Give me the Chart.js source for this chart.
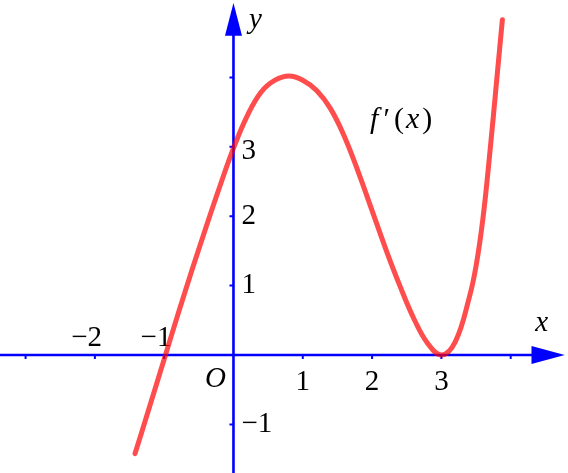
<!DOCTYPE html>
<html>
<head>
<meta charset="utf-8">
<script src="https://cdn.jsdelivr.net/npm/chart.js@4/dist/chart.umd.min.js"></script>
<style>
  html, body { margin:0; padding:0; background:#fff; }
  #c { display:block; }
</style>
</head>
<body>
<canvas id="c" width="568" height="473"></canvas>
<script>
/* f'(x) curve */
const CURVE_X = [-1.42, -1.2, -1.0, -0.8, -0.6, -0.4, -0.2, 0.0, 0.2, 0.4, 0.6, 0.8, 1.0, 1.2, 1.4, 1.6, 1.8, 2.0, 2.2, 2.4, 2.6, 2.8, 3.0, 3.2, 3.4, 3.5, 3.6, 3.7, 3.8, 3.88];
const CURVE_Y = [-1.42, -0.71, -0.06, 0.59, 1.22, 1.83, 2.42, 2.98, 3.45, 3.79, 3.96, 4.02, 3.96, 3.81, 3.55, 3.15, 2.64, 2.08, 1.52, 1.00, 0.53, 0.17, 0.00, 0.19, 0.82, 1.28, 1.97, 2.92, 3.98, 4.83];

/* axis ticks and labels */
const X_TICKS = [-3, -2, -1, 1, 2, 3, 4];
const Y_TICKS = [-1, 1, 2, 3, 4];
const X_LABEL_VALUES = [-2, -1, 1, 2, 3];
const X_LABELS = ['−2', '−1', '1', '2', '3'];
const Y_LABEL_VALUES = [-1, 1, 2, 3];
const Y_LABELS = ['−1', '1', '2', '3'];

const AXIS = '#0000FF';
const CURVE = 'rgba(255,0,0,0.7)';
const FONT = '"Liberation Serif", "DejaVu Serif", serif';
const FS = 29;

/* ── axes, arrows, ticks, labels (under the curve) ─────────── */
const axesPlugin = {
  id: 'mathAxes',
  beforeDatasetsDraw(chart){
    const { ctx, chartArea, scales:{ x, y } } = chart;
    const ox = x.getPixelForValue(0), oy = y.getPixelForValue(0);
    const xTip = x.getPixelForValue(4.78), xBase = x.getPixelForValue(4.30);
    const yTip = y.getPixelForValue(5.07), yBase = y.getPixelForValue(4.60);
    ctx.save();
    ctx.strokeStyle = AXIS; ctx.fillStyle = AXIS; ctx.lineWidth = 2.6;
    // axis lines
    ctx.beginPath();
    ctx.moveTo(chartArea.left, oy); ctx.lineTo(xBase + 2, oy);
    ctx.moveTo(ox, chartArea.bottom); ctx.lineTo(ox, yBase - 2);
    ctx.stroke();
    // arrow heads
    ctx.beginPath();
    ctx.moveTo(xTip, oy); ctx.lineTo(xBase, oy - 9); ctx.lineTo(xBase, oy + 9); ctx.closePath();
    ctx.fill();
    ctx.beginPath();
    ctx.moveTo(ox, yTip); ctx.lineTo(ox - 8.5, yBase); ctx.lineTo(ox + 8.5, yBase); ctx.closePath();
    ctx.fill();
    // ticks
    ctx.lineWidth = 2;
    ctx.beginPath();
    X_TICKS.forEach(v => { const px = x.getPixelForValue(v); ctx.moveTo(px, oy); ctx.lineTo(px, oy + 4); });
    Y_TICKS.forEach(v => { const py = y.getPixelForValue(v); ctx.moveTo(ox, py); ctx.lineTo(ox - 4, py); });
    ctx.stroke();

    // tick labels
    ctx.fillStyle = '#000';
    ctx.font = `${FS}px ${FONT}`;
    ctx.textBaseline = 'middle';
    const digitW = ctx.measureText('0').width;
    X_LABEL_VALUES.forEach((v, i) => {
      const px = x.getPixelForValue(v);
      if(v < 0){
        ctx.textAlign = 'right';
        ctx.fillText(X_LABELS[i], px + digitW / 2, oy - 17);
      } else {
        ctx.textAlign = 'center';
        ctx.fillText(X_LABELS[i], px, oy + 27);
      }
    });
    ctx.textAlign = 'left';
    Y_LABEL_VALUES.forEach((v, i) => {
      const dy = v === 3 ? 5 : 0;
      ctx.fillText(Y_LABELS[i], ox + 8, y.getPixelForValue(v) + dy);
    });

    // O, x, y
    ctx.font = `italic ${FS}px ${FONT}`;
    ctx.textAlign = 'center';
    ctx.fillText('O', ox - 18, oy + 24);
    ctx.fillText('x', xTip - 23, oy - 32);
    ctx.fillText('y', ox + 22, yTip + 17);
    ctx.restore();
  },
  afterDatasetsDraw(chart){
    // curve name f′(x), pieces with TeX-like spacing
    const { ctx, scales:{ x, y } } = chart;
    const parts = [['f', 'italic ', 5], ['′', '', 4], ['(', '', 2], ['x', 'italic ', 3], [')', '', 0]];
    ctx.save();
    ctx.fillStyle = '#000';
    ctx.textBaseline = 'middle';
    ctx.textAlign = 'left';
    const widths = parts.map(([t, st, gap]) => { ctx.font = `${st}${FS + 1}px ${FONT}`; return ctx.measureText(t).width + gap; });
    const total = widths.reduce((a, b) => a + b, 0);
    let cx = x.getPixelForValue(2.42) - total / 2;
    const cy = y.getPixelForValue(3.38);
    parts.forEach(([t, st], i) => {
      ctx.font = `${st}${FS + 1}px ${FONT}`;
      ctx.fillText(t, cx, cy);
      cx += widths[i];
    });
    ctx.restore();
  }
};

new Chart(document.getElementById('c'), {
  type: 'line',
  data: {
    datasets: [{
      data: CURVE_X.map((v, i) => ({ x: v, y: CURVE_Y[i] })),
      borderColor: CURVE,
      borderWidth: 5,
      borderCapStyle: 'round',
      borderJoinStyle: 'round',
      tension: 0.4,
      pointRadius: 0,
      fill: false
    }]
  },
  plugins: [axesPlugin],
  options: {
    responsive: false,
    animation: false,
    events: [],
    layout: { padding: 0 },
    plugins: { legend: { display: false }, tooltip: { enabled: false } },
    scales: {
      x: { type: 'linear', display: false, min: -3.369, max: 4.827 },
      y: { type: 'linear', display: false, min: -1.700, max: 5.115 }
    }
  }
});
</script>
</body>
</html>
